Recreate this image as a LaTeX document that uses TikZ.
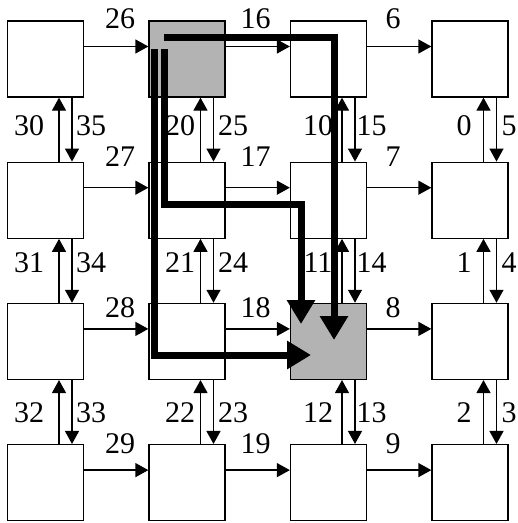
\documentclass[tikz,border=0pt]{standalone}
\usepackage{fontspec}
\setmainfont{Liberation Serif}
\usetikzlibrary{arrows.meta,calc}
\definecolor{busy}{HTML}{B3B3B3}

\begin{document}
\begin{tikzpicture}[x=1pt,y=-1pt,
    router/.style={draw,line width=1.3pt,minimum size=76pt,inner sep=0pt},
    link/.style={line width=1.3pt,-{Triangle[length=13pt,width=14pt]}},
    route/.style={line width=7pt,-{Triangle[length=24pt,width=27pt]}},
    num/.style={font=\fontsize{30}{30}\selectfont,inner sep=0pt}]
  \useasboundingbox (0,0) rectangle (518,523);

  % routers, two of them busy
  \foreach \r in {0,...,3}
    \foreach \c in {0,...,3} {
      \pgfmathtruncatemacro\tint{(10*\r+\c==1 || 10*\r+\c==22) ? 100 : 0}
      \node[router,fill=busy!\tint!white] (n\r\c) at (45.5+141.5*\c,59+141.2*\r) {};
    }

  % east links
  \foreach \r in {0,...,3}
    \foreach \c/\cn in {0/1,1/2,2/3}
      \draw[link] ($(n\r\c.east)+(0,-12.5)$) -- ($(n\r\cn.west)+(0,-12.5)$);

  % north / south links
  \foreach \r/\rn in {0/1,1/2,2/3}
    \foreach \c in {0,...,3} {
      \draw[link] ($(n\rn\c.north)+(13.5,0)$) -- ($(n\r\c.south)+(13.5,0)$);
      \draw[link] ($(n\r\c.south)+(26.5,0)$) -- ($(n\rn\c.north)+(26.5,0)$);
    }

  % link numbers
  \foreach \c/\x in {0/120,1/255.5,2/393}
    \foreach \r/\y in {0/19,1/157,2/308,3/444} {
      \pgfmathtruncatemacro\k{26-10*\c+\r}
      \node[num] (h\r\c) at (\x,\y) {\k};
    }
  \foreach \c/\xl/\xr in {0/29/91,1/180/233,2/318/371.5,3/464/509}
    \foreach \r/\y in {0/126,1/263,2/413} {
      \pgfmathtruncatemacro\ku{30-10*\c+\r}
      \pgfmathtruncatemacro\kd{35-10*\c-\r}
      \node[num] (u\r\c) at (\xl,\y) {\ku};
      \node[num] (d\r\c) at (\xr,\y) {\kd};
    }

  % the three routes
  \coordinate (a0) at ($(n01.center)+(-23,-21.5)$);
  \coordinate (b0) at ($(n01.center)+(-22.5,-10)$);
  \coordinate (c0) at ($(n01.center)+(-32.5,-10)$);
  \coordinate (bk) at ($(n12.center)+(-27.5,3.8)$);
  \coordinate (a1) at ($(n22.center)+(5.5,-1.4)$);
  \coordinate (b1) at ($(n22.center)+(-27.5,-17.4)$);
  \coordinate (c1) at ($(n22.center)+(-17.5,13.6)$);
  \draw[route] (a0) -| (a1);
  \draw[route] (b0) |- (bk) -- (b1);
  \draw[route] (c0) |- (c1);
\end{tikzpicture}
\end{document}
